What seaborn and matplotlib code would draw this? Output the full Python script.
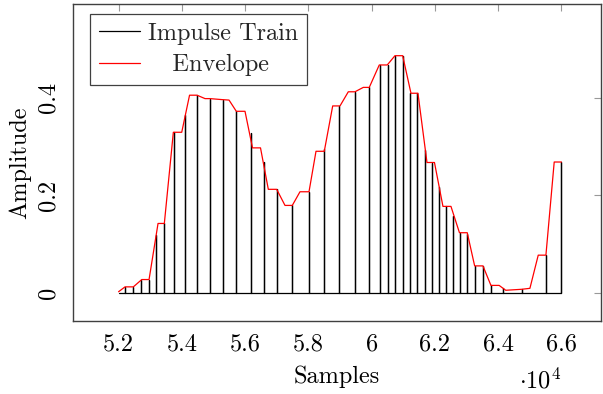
import numpy as np
import pandas as pd
import matplotlib
matplotlib.use("Agg")
import matplotlib.pyplot as plt
import seaborn as sns
from matplotlib.ticker import FuncFormatter, FixedLocator

# ---- data ----
pulse_x = [52205, 52468, 52711, 52964, 53185, 53447, 53754, 54086, 54490, 54891,
           55312, 55713, 56178, 56588, 57018, 57492, 58020, 58503, 58984, 59473,
           59925, 60263, 60507, 60737, 60981, 61227, 61433, 61685, 61897, 62137,
           62365, 62586, 62801, 63028, 63265, 63509, 63780, 64160, 64741, 65509,
           65970]
pulse_amp = [0.011, 0.012, 0.027, 0.027, 0.118, 0.142, 0.329, 0.364, 0.405, 0.398,
             0.395, 0.372, 0.327, 0.268, 0.212, 0.179, 0.207, 0.294, 0.383, 0.412,
             0.421, 0.467, 0.467, 0.486, 0.486, 0.409, 0.409, 0.292, 0.267, 0.217,
             0.177, 0.157, 0.123, 0.120, 0.055, 0.055, 0.015, 0.010, 0.007, 0.077,
             0.268]
train_start, train_end = 52000, 66000

env_x = [52000, 52205, 52468, 52733, 52964, 53248, 53447, 53732, 53997, 54244,
         54481, 54733, 54891, 55261, 55492, 55722, 55997, 56234, 56487, 56734,
         56999, 57261, 57492, 57735, 58020, 58241, 58503, 58769, 59000, 59262,
         59473, 59736, 59925, 60241, 60494, 60737, 60981, 61243, 61464, 61749,
         61986, 62254, 62507, 62776, 63022, 63256, 63518, 63771, 64030, 64239,
         64741, 65003, 65266, 65509, 65771, 66000]
env_y = [0.002, 0.012, 0.012, 0.027, 0.027, 0.142, 0.142, 0.329, 0.329, 0.405,
         0.405, 0.398, 0.398, 0.396, 0.395, 0.372, 0.372, 0.297, 0.297, 0.212,
         0.212, 0.179, 0.179, 0.207, 0.207, 0.290, 0.290, 0.383, 0.383, 0.412,
         0.412, 0.421, 0.421, 0.467, 0.467, 0.486, 0.486, 0.409, 0.409, 0.267,
         0.267, 0.177, 0.177, 0.123, 0.123, 0.055, 0.055, 0.015, 0.015, 0.005,
         0.007, 0.009, 0.077, 0.077, 0.268, 0.268]

xticks = [52000, 54000, 56000, 58000, 60000, 62000, 64000, 66000]
yticks = [0.0, 0.2, 0.4]

# ---- style ----
sns.set_theme(style="white")
plt.rcParams["font.family"] = ["cmr10", "DejaVu Serif"]
plt.rcParams["mathtext.fontset"] = "cm"
plt.rcParams["axes.unicode_minus"] = False
plt.rcParams["axes.formatter.use_mathtext"] = True

FS = 17.5

fig = plt.figure(figsize=(6.03, 3.94), dpi=100)
ax = fig.add_axes([73 / 603, 1 - 321 / 394, 528 / 603, 317 / 394])

# impulse train path built from pulse data (zero between pulses)
px, py = [train_start], [0.0]
for x, a in zip(pulse_x, pulse_amp):
    px += [x, x, x]
    py += [0.0, a, 0.0]
px.append(train_end)
py.append(0.0)
train_df = pd.DataFrame({"x": px, "y": py})
env_df = pd.DataFrame({"x": env_x, "y": env_y})

sns.lineplot(data=train_df, x="x", y="y", color="black", lw=0.9,
             estimator=None, sort=False, label="Impulse Train", ax=ax)
sns.lineplot(data=env_df, x="x", y="y", color="#ff0000", lw=0.9,
             estimator=None, sort=False, label="   Envelope", ax=ax)

ax.set_xlim(50560, 67250)
ax.set_ylim(-0.058, 0.592)

ax.xaxis.set_major_locator(FixedLocator(xticks))
ax.yaxis.set_major_locator(FixedLocator(yticks))
ax.xaxis.set_major_formatter(FuncFormatter(lambda v, p: f"{v / 1e4:g}"))
ax.yaxis.set_major_formatter(FuncFormatter(lambda v, p: f"{v:g}"))

ax.tick_params(axis="both", which="major", direction="in", length=5, width=0.8,
               color="#999999", top=True, right=True, labelsize=FS,
               labelcolor="black")
ax.tick_params(axis="x", pad=9)
ax.tick_params(axis="y", pad=9.5, labelrotation=90)
for lab in ax.get_yticklabels():
    lab.set_va("center")

for s in ax.spines.values():
    s.set_color("#404040")
    s.set_linewidth(1.0)

ax.set_xlabel("Samples", fontsize=FS, color="black", labelpad=7)
ax.set_ylabel("Amplitude", fontsize=FS, color="black", labelpad=5)

fig.text(540 / 603, 1 - 381 / 394, r"$\cdot10^{4}$", fontsize=FS,
         ha="center", va="center", color="black")

handles, labels = ax.get_legend_handles_labels()
leg = ax.legend(handles, labels, loc="upper left",
                bbox_to_anchor=(17 / 528, 1 - 10 / 317), borderaxespad=0,
                fontsize=FS, frameon=True, fancybox=False, framealpha=1,
                edgecolor="#404040", handlelength=1.7, handletextpad=0.35,
                borderpad=0.35, labelspacing=0.4)
leg.get_frame().set_linewidth(0.9)

fig.savefig("out.png", dpi=100, facecolor="white")
